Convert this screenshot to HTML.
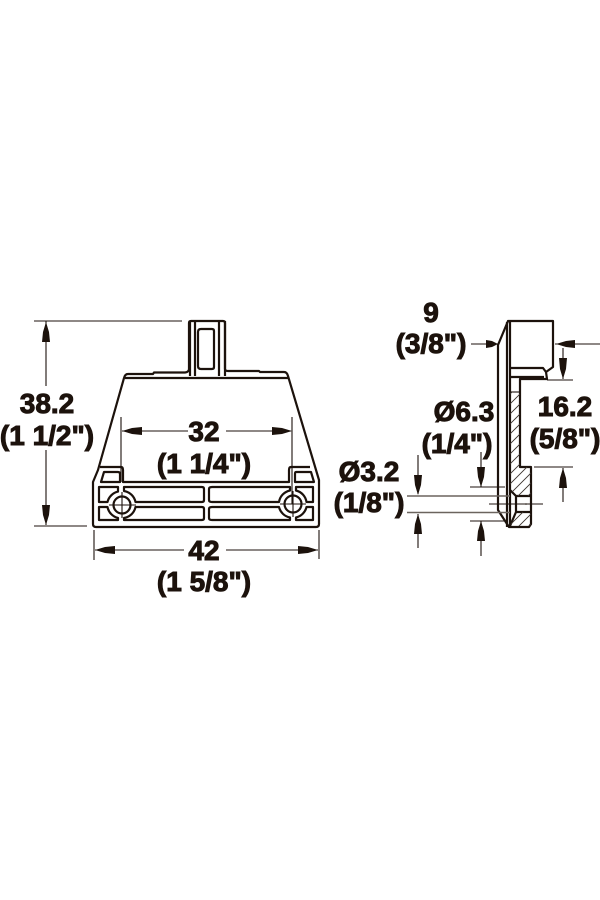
<!DOCTYPE html>
<html><head><meta charset="utf-8"><style>
html,body{margin:0;padding:0;background:#fff}
svg{display:block}
text{font-family:"Liberation Sans",Arial,sans-serif;font-weight:bold;font-size:28px;fill:#1c120c;stroke:#1c120c;stroke-width:1;text-anchor:middle}
.o{fill:none;stroke:#1c120c;stroke-width:2.2;stroke-linejoin:round}
.t{fill:none;stroke:#1c120c;stroke-width:1.1}
.g{fill:none;stroke:#6b645e;stroke-width:1.4}
.h{fill:none;stroke:#3a322c;stroke-width:.9}
.a{fill:#1c120c;stroke:none}
</style></head><body>
<svg width="600" height="900" viewBox="0 0 600 900" xmlns="http://www.w3.org/2000/svg">
<rect width="600" height="900" fill="#fff"/>
<!-- front view outline -->
<path class="o" d="M189 369V323Q189 321 191 321H223Q225 321 225 323V369Q225 371 228 371H259L260 372H284Q287 372 288 376L319 480V524Q319 527 316 527H96Q93 527 93 524V482L98 470L124 378Q125 374 128 374H153L154 372.500H185Q189 372 189 369"/>
<path class="o" d="M125 378H289" stroke-width="1.400"/>
<path class="o" d="M190 321V376M225 321V376M195 322V376M219 322V376" stroke-width="1.500"/>
<path class="o" d="M201 329H212Q214 329 214 331V367Q214 369 212 369H201Q198 369 198 366V332Q198 329 201 329Z" stroke-width="1.800"/>
<path class="o" d="M100 467H121Q123 467 123 470V482H289V470Q289 467 291 467H310"/>
<!-- pockets top -->
<path class="o" d="M104 472H118Q120 472 120 474V482H101Z"/>
<path class="o" d="M296 472H311L314 482H295V474Q295 472 296 472Z"/>
<!-- left pockets -->
<path class="o" d="M99 487H118V491.600A14 14 0 0 0 107.500 502H99Z"/>
<path class="o" d="M99 507H107.500A14 14 0 0 0 118 518V520H99Z"/>
<!-- long slots -->
<path class="o" d="M124 487H202Q204 487 204 489V500Q204 502 202 502H135.500A14 14 0 0 0 124 491Z"/>
<path class="o" d="M124 520V518A14 14 0 0 0 135.500 507H202Q204 507 204 509V518Q204 520 202 520Z"/>
<path class="o" d="M212 487H290V490.500A14 14 0 0 0 279 502H212Q209 502 209 500V489Q209 487 212 487Z"/>
<path class="o" d="M212 507H279A14 14 0 0 0 290 517.500V520H212Q209 520 209 518V509Q209 507 212 507Z"/>
<!-- right pockets -->
<path class="o" d="M296 487H313V502H306.500A14 14 0 0 0 296 490.500Z"/>
<path class="o" d="M306.500 507H313V520H296V517.500A14 14 0 0 0 306.500 507Z"/>
<!-- holes -->
<circle class="o" cx="122" cy="505" r="8.500" stroke-width="2.400"/>
<circle class="o" cx="293" cy="504" r="8.500" stroke-width="2.400"/>
<path class="t" d="M109 505H136M122 492V518M280 504H306M293 491V517"/>

<!-- side view -->
<path class="o" d="M508 321H553V367L546 372L547 379H520V467H531V524L529 527H509L498 510V345Z"/>
<path class="o" d="M507 322V527" stroke-width="1.500"/>
<path class="o" d="M510 322V527" stroke-width="1.500"/>
<path class="o" d="M510 368H543L546 372M510 377H544" stroke-width="1.500"/>
<path class="t" d="M510 392H520"/>
<path class="o" d="M510 490L516 496V512L510 526M516 496H531M516 512H531" stroke-width="1.500"/>
<circle class="a" cx="526" cy="504" r=".8"/>
<clipPath id="c1"><path d="M510 392H520V467H531V496H516L510 490Z"/></clipPath>
<clipPath id="c2"><path d="M516 512H531V526H510Z"/></clipPath>
<g clip-path="url(#c1)"><path class="h" d="M500 404L530 374M500 414L530 384M500 424L530 394M500 434L530 404M500 444L530 414M500 454L530 424M500 464L530 434M500 474L540 434M500 484L540 444M500 494L540 454M500 504L540 464M505 509L540 474M515 509L540 484M525 509L540 494"/></g>
<g clip-path="url(#c2)"><path class="h" d="M505 530L530 505M515 530L540 505M525 530L545 510"/></g>

<!-- dim lines -->
<path class="t" d="M34 321H182M46 321V386M46 450V525M34 526H87"/>
<path class="a" d="M46 322L49 332L50 342H42L43 332ZM46 525L49 515L50 505H42L43 515Z"/>
<path class="t" d="M121 417V482M292 417V504M122 431H188M226 431H291"/>
<path class="a" d="M122 431L132 428L142 427V435L132 434ZM292 431L282 428L272 427V435L282 434Z"/>
<path class="t" d="M94 530V560M319 530V559M95 550H184M226 550H318"/>
<path class="a" d="M95 550L105 547L115 546V554L105 553ZM318 550L308 547L298 546V554L308 553Z"/>
<path class="t" d="M471 344H498M555 344H600M563 348V379M547 380H573M534 467H573M563 468V502"/>
<path class="a" d="M498 344L492 341L486 340V348L492 347ZM556 344L566 341L575 340V348L566 347ZM563 379L560 369L559 358H567L566 369ZM563 468L560 478L559 488H567L566 478Z"/>
<path class="t" d="M481 452V487M470 487H505M470 521H505M481 521V556M489 504H543"/>
<path class="a" d="M481 487L478 477L477 467H485L484 477ZM481 521L478 531L477 541H485L484 531Z"/>
<path class="g" d="M407 496H510M407 512.500H510"/>
<path class="t" d="M418 455V494M418 514V548"/>
<path class="a" d="M418 495L415 485L414 475H422L421 485ZM418 514L415 524L414 534H422L421 524Z"/>

<!-- labels -->
<text x="47" y="413">38.2</text>
<text x="47" y="445">(1 1/2")</text>
<text x="204" y="441">32</text>
<text x="204" y="473">(1 1/4")</text>
<text x="204" y="560">42</text>
<text x="204" y="591">(1 5/8")</text>
<text x="431" y="322">9</text>
<text x="431" y="353">(3/8")</text>
<text x="464" y="421">Ø6.3</text>
<text x="457" y="453">(1/4")</text>
<text x="369" y="481">Ø3.2</text>
<text x="369" y="512">(1/8")</text>
<text x="565" y="416">16.2</text>
<text x="565" y="448">(5/8")</text>
</svg>
</body></html>
